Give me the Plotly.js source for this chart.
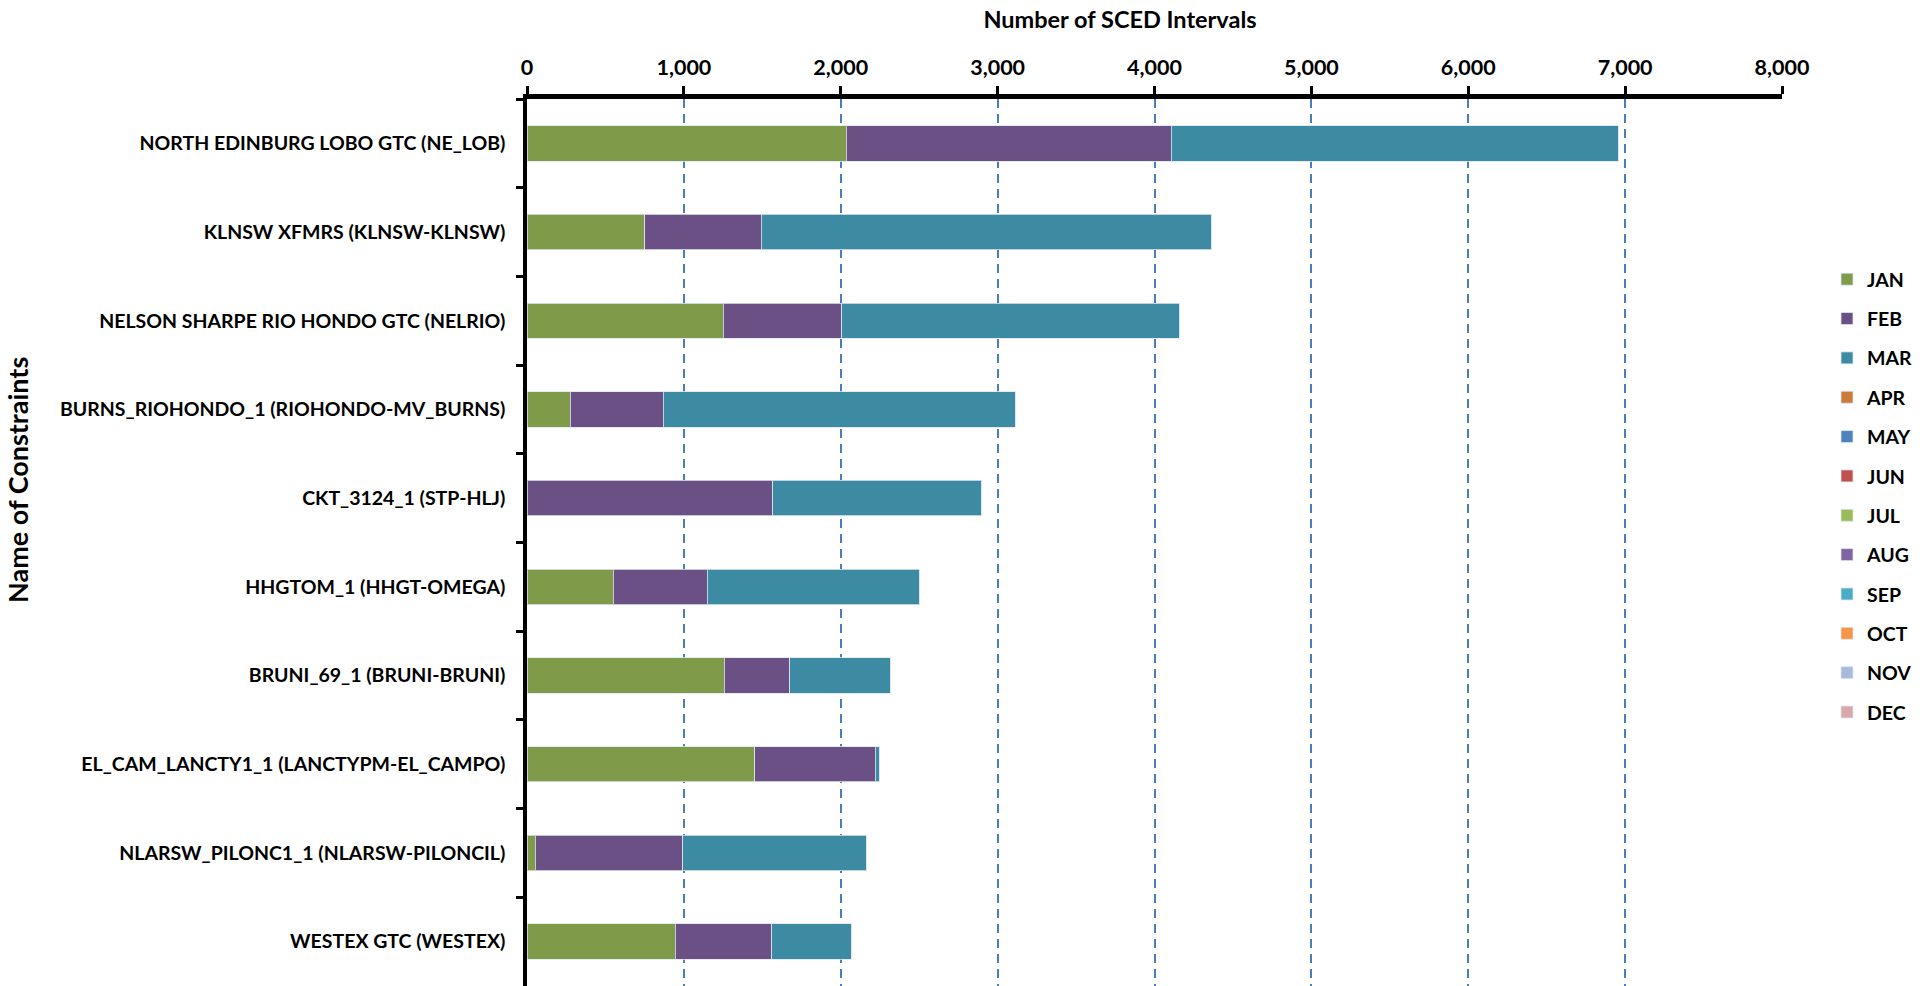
<!DOCTYPE html>
<html>
<head>
<meta charset="utf-8">
<script src="https://cdn.plot.ly/plotly-3.0.1.min.js"></script>
<style>
html, body { margin: 0; padding: 0; background: #ffffff; }
#chart { width: 1930px; height: 986px; }
</style>
</head>
<body>
<div id="chart"></div>
<script>
// Categories listed top to bottom
const constraints = [
  "NORTH EDINBURG LOBO GTC (NE_LOB)",
  "KLNSW XFMRS (KLNSW-KLNSW)",
  "NELSON SHARPE RIO HONDO GTC (NELRIO)",
  "BURNS_RIOHONDO_1 (RIOHONDO-MV_BURNS)",
  "CKT_3124_1 (STP-HLJ)",
  "HHGTOM_1 (HHGT-OMEGA)",
  "BRUNI_69_1 (BRUNI-BRUNI)",
  "EL_CAM_LANCTY1_1 (LANCTYPM-EL_CAMPO)",
  "NLARSW_PILONC1_1 (NLARSW-PILONCIL)",
  "WESTEX GTC (WESTEX)"
];

const months = ["JAN","FEB","MAR","APR","MAY","JUN","JUL","AUG","SEP","OCT","NOV","DEC"];

const jan = [2036, 751, 1252, 277, 0, 550, 1257, 1453, 53, 944];
const feb = [2071, 742, 753, 591, 1567, 599, 418, 767, 940, 617];
const mar = [2852, 2869, 2156, 2244, 1329, 1353, 645, 26, 1171, 508];
const apr = [0, 0, 0, 0, 0, 0, 0, 0, 0, 0];
const may = [0, 0, 0, 0, 0, 0, 0, 0, 0, 0];
const jun = [0, 0, 0, 0, 0, 0, 0, 0, 0, 0];
const jul = [0, 0, 0, 0, 0, 0, 0, 0, 0, 0];
const aug = [0, 0, 0, 0, 0, 0, 0, 0, 0, 0];
const sep = [0, 0, 0, 0, 0, 0, 0, 0, 0, 0];
const oct = [0, 0, 0, 0, 0, 0, 0, 0, 0, 0];
const nov = [0, 0, 0, 0, 0, 0, 0, 0, 0, 0];
const dec = [0, 0, 0, 0, 0, 0, 0, 0, 0, 0];

const tickVals = [0, 1000, 2000, 3000, 4000, 5000, 6000, 7000, 8000];
const tickText = ["0", "1,000", "2,000", "3,000", "4,000", "5,000", "6,000", "7,000", "8,000"];

const monthColors = ["#7F9A48", "#6A5085", "#3D8BA3", "#CC7B38", "#4F81BD", "#C0504D",
                     "#9BBB59", "#8064A2", "#4BACC6", "#F79646", "#A9B9D9", "#D9A9A9"];

const series = [jan, feb, mar, apr, may, jun, jul, aug, sep, oct, nov, dec];

const FONT = "Lato, 'Open Sans', sans-serif";

const traces = series.map((vals, i) => ({
  type: "bar",
  orientation: "h",
  name: months[i],
  legendgroup: months[i],
  x: vals,
  y: constraints,
  marker: { color: monthColors[i], line: { color: "rgba(220,230,240,0.8)", width: 1 } },
  hoverinfo: "x+y+name"
}));

const layout = {
  width: 1930,
  height: 986,
  margin: { l: 527, r: 148, t: 99, b: 0 },
  paper_bgcolor: "#ffffff",
  plot_bgcolor: "#ffffff",
  barmode: "stack",
  bargap: 0.6,
  font: { family: FONT, color: "#000000" },
  title: {
    text: "<b>Number of SCED Intervals</b>",
    font: { family: FONT, size: 23.5, color: "#000000" },
    x: 1120 / 1930, xanchor: "center", xref: "container",
    y: 1 - 20 / 986, yanchor: "middle", yref: "container"
  },
  xaxis: {
    side: "top",
    range: [0, 8000],
    tickvals: tickVals,
    ticktext: tickText,
    tickfont: { family: FONT, size: 21.5, color: "#000000", weight: "bold" },
    ticks: "outside",
    ticklen: 8,
    tickwidth: 3,
    tickcolor: "#000000",
    ticklabelstandoff: 3,
    showline: true,
    linecolor: "#000000",
    linewidth: 4.5,
    showgrid: true,
    gridcolor: "#4A7EBB",
    gridwidth: 1.5,
    griddash: "9px,6px",
    zeroline: false,
    fixedrange: true
  },
  yaxis: {
    type: "category",
    autorange: "reversed",
    tickson: "boundaries",
    ticks: "outside",
    ticklen: 7,
    tickwidth: 3,
    tickcolor: "#000000",
    ticklabelstandoff: 14,
    tickfont: { family: FONT, size: 19.5, color: "#000000", weight: "bold" },
    showline: true,
    linecolor: "#000000",
    linewidth: 3.5,
    showgrid: false,
    zeroline: false,
    fixedrange: true
  },
  legend: {
    x: (1827 - 527) / 1255,
    xanchor: "left",
    y: (986 - 496) / 887,
    yanchor: "middle",
    font: { family: FONT, size: 19.5, color: "#000000", weight: "bold" },
    tracegroupgap: 11,
    itemwidth: 30,
    bgcolor: "rgba(0,0,0,0)"
  },
  showlegend: true,
  annotations: [{
    text: "<b>Name of Constraints</b>",
    xref: "paper", yref: "paper",
    x: (17 - 527) / 1255, y: (986 - 480) / 887,
    xanchor: "center", yanchor: "middle",
    textangle: -90,
    showarrow: false,
    font: { family: FONT, size: 27, color: "#000000" }
  }]
};

Plotly.newPlot("chart", traces, layout, { displayModeBar: false, responsive: false });
</script>
</body>
</html>
